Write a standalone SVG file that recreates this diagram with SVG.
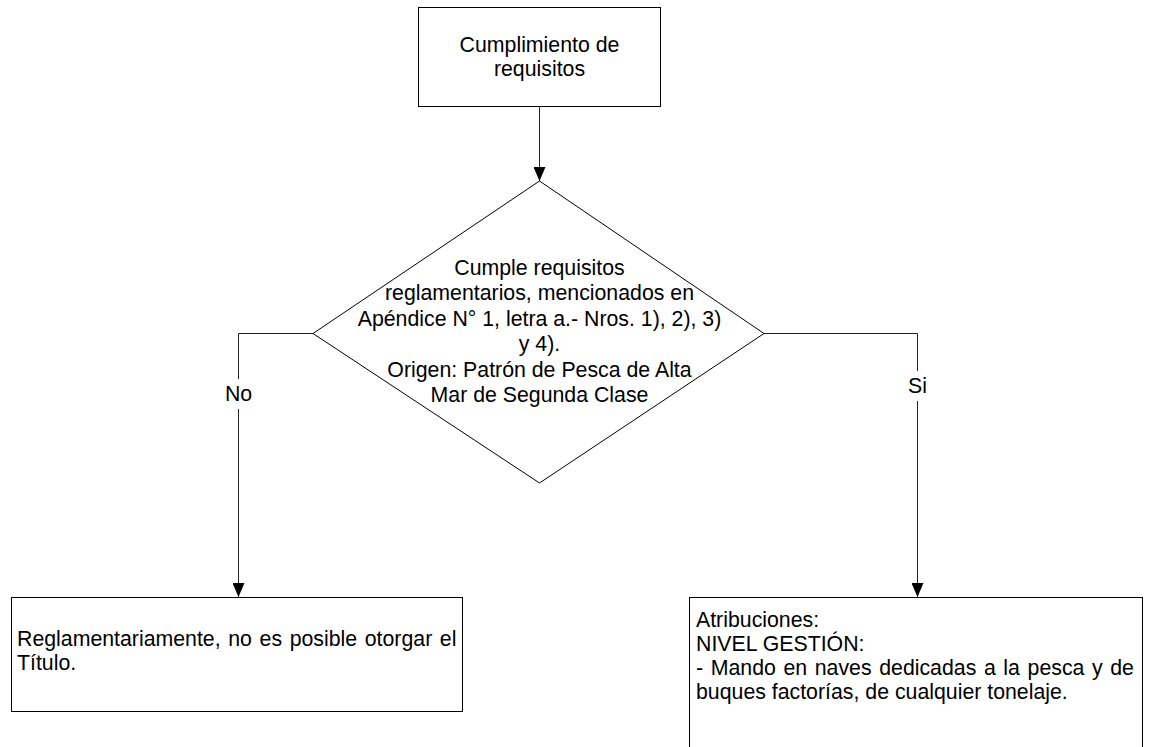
<svg xmlns="http://www.w3.org/2000/svg" width="1158" height="747" viewBox="0 0 1158 747">
<style>
.box{fill:#fff;stroke:#000;stroke-width:1}
.t{font-family:"Liberation Sans",Arial,sans-serif;font-size:21.3px;fill:#000}
.c{text-anchor:middle}
.con{fill:none;stroke:#222;stroke-width:1}
</style>
<defs>
<marker id="arr" markerUnits="userSpaceOnUse" markerWidth="14" markerHeight="12" refX="14" refY="6" orient="auto">
<path d="M0,0 L14,6 L0,12 z" fill="#000"/>
</marker>
</defs>
<rect width="1158" height="747" fill="#fff"/>
<g id="connectors">
<line class="con" x1="539.5" y1="106" x2="539.5" y2="181" marker-end="url(#arr)"/>
<polyline class="con" points="313,333.5 238.5,333.5 238.5,597" marker-end="url(#arr)"/>
<polyline class="con" points="764,333.5 917.5,333.5 917.5,597" marker-end="url(#arr)"/>
<rect x="226" y="379" width="26" height="30" fill="#fff"/>
<text class="t c" x="238.5" y="401">No</text>
<rect x="907" y="371" width="22" height="30" fill="#fff"/>
<text class="t c" x="917.5" y="393">Si</text>
</g>
<g id="start">
<rect class="box" x="418.5" y="7.5" width="242" height="99"/>
<text class="t c" x="539.5" y="52">Cumplimiento de</text>
<text class="t c" x="539.5" y="76">requisitos</text>
</g>
<g id="decision">
<polygon class="box" points="539.5,181 764,333.5 539.5,483 313,333.5"/>
<text class="t c" x="539.5" y="275">Cumple requisitos</text>
<text class="t c" x="539.5" y="300.4">reglamentarios, mencionados en</text>
<text class="t c" x="539.5" y="325.8">Apéndice N° 1, letra a.- Nros. 1), 2), 3)</text>
<text class="t c" x="539.5" y="351.2">y 4).</text>
<text class="t c" x="539.5" y="376.6">Origen: Patrón de Pesca de Alta</text>
<text class="t c" x="539.5" y="402">Mar de Segunda Clase</text>
</g>
<g id="no-result">
<rect class="box" x="11.5" y="597.5" width="451" height="114"/>
<text class="t" x="17" y="646" word-spacing="1.7">Reglamentariamente, no es posible otorgar el</text>
<text class="t" x="17" y="670">Título.</text>
</g>
<g id="si-result">
<rect class="box" x="689.5" y="597.5" width="453" height="170"/>
<text class="t" x="696" y="627">Atribuciones:</text>
<text class="t" x="696" y="651">NIVEL GESTIÓN:</text>
<text class="t" x="696" y="675" word-spacing="1.7">- Mando en naves dedicadas a la pesca y de</text>
<text class="t" x="696" y="699">buques factorías, de cualquier tonelaje.</text>
</g>
</svg>
